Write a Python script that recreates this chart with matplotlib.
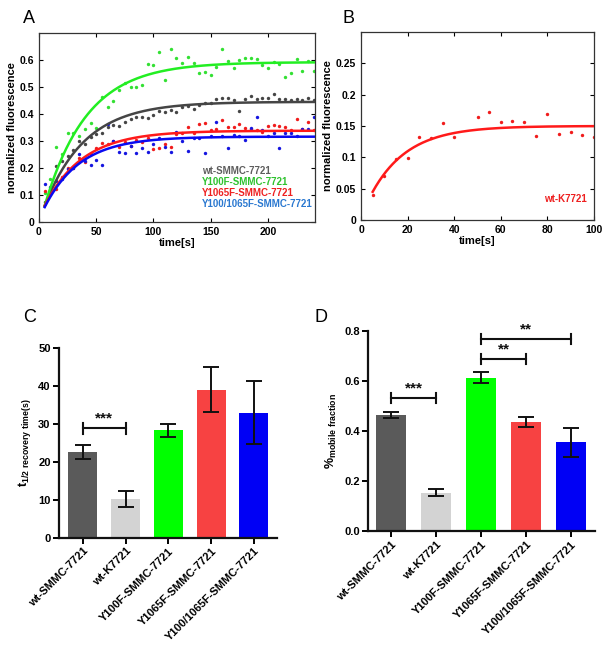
import numpy as np
import matplotlib
matplotlib.use("Agg")
import matplotlib.pyplot as plt

plt.rcParams['font.family'] = ['Liberation Sans', 'DejaVu Sans']
plt.rcParams['mathtext.fontset'] = 'custom'
plt.rcParams['mathtext.rm'] = 'Liberation Sans'
plt.rcParams['mathtext.bf'] = 'Liberation Sans:bold'

# ---------------- Data ----------------
time_a = list(range(5, 245, 5))
wt_smmc = [0.075, 0.12, 0.207, 0.225, 0.245, 0.265, 0.30, 0.29, 0.315, 0.325,
           0.33, 0.35, 0.36, 0.355, 0.37, 0.383, 0.39, 0.39, 0.384, 0.396,
           0.41, 0.407, 0.415, 0.409, 0.425, 0.43, 0.42, 0.435, 0.44, 0.44,
           0.457, 0.458, 0.459, 0.45, 0.412, 0.457, 0.468, 0.455, 0.46, 0.458,
           0.474, 0.455, 0.457, 0.452, 0.455, 0.452, 0.458, 0.45]
y100f = [0.106, 0.159, 0.277, 0.252, 0.33, 0.328, 0.318, 0.345, 0.368, 0.347,
         0.464, 0.427, 0.449, 0.49, 0.516, 0.499, 0.501, 0.506, 0.584, 0.581,
         0.628, 0.526, 0.64, 0.606, 0.59, 0.611, 0.588, 0.551, 0.556, 0.544,
         0.573, 0.64, 0.597, 0.569, 0.6, 0.608, 0.607, 0.605, 0.58, 0.569,
         0.594, 0.586, 0.537, 0.553, 0.602, 0.56, 0.597, 0.56]
y1065f = [0.115, 0.12, 0.123, 0.165, 0.2, 0.2, 0.238, 0.222, 0.25, 0.273,
          0.291, 0.29, 0.30, 0.278, 0.295, 0.281, 0.305, 0.295, 0.31, 0.272,
          0.273, 0.289, 0.279, 0.325, 0.33, 0.35, 0.33, 0.364, 0.368, 0.34,
          0.345, 0.378, 0.353, 0.35, 0.363, 0.349, 0.345, 0.34, 0.335, 0.355,
          0.36, 0.356, 0.35, 0.34, 0.38, 0.345, 0.372, 0.34]
y100_1065f = [0.14, 0.128, 0.15, 0.16, 0.195, 0.2, 0.252, 0.225, 0.211, 0.23,
              0.21, 0.362, 0.30, 0.26, 0.254, 0.28, 0.257, 0.273, 0.26, 0.289,
              0.31, 0.279, 0.26, 0.334, 0.30, 0.263, 0.31, 0.31, 0.257, 0.32,
              0.372, 0.32, 0.275, 0.322, 0.32, 0.304, 0.347, 0.388, 0.341, 0.32,
              0.33, 0.273, 0.331, 0.33, 0.32, 0.344, 0.345, 0.39]
series_a_names = ["wt-SMMC-7721", "Y100F-SMMC-7721", "Y1065F-SMMC-7721", "Y100/1065F-SMMC-7721"]
# exponential recovery fit parameters: start value, plateau, rate
fit_start_a = [0.06, 0.06, 0.06, 0.055]
fit_plateau_a = [0.445, 0.592, 0.338, 0.316]
fit_rate_a = [0.028, 0.027, 0.030, 0.032]

time_b = [5, 10, 15, 20, 25, 30, 35, 40, 50, 55, 60, 65, 70, 75, 80, 85, 90, 95, 100]
wt_k7721 = [0.04, 0.071, 0.098, 0.099, 0.132, 0.131, 0.154, 0.132, 0.165, 0.172,
            0.156, 0.158, 0.157, 0.134, 0.169, 0.137, 0.141, 0.136, 0.133]
fit_start_b = 0.045
fit_plateau_b = 0.15
fit_rate_b = 0.064

bar_labels = ["wt-SMMC-7721", "wt-K7721", "Y100F-SMMC-7721", "Y1065F-SMMC-7721", "Y100/1065F-SMMC-7721"]
t_half = [22.6, 10.1, 28.3, 39.0, 32.9]
t_half_err = [1.8, 2.05, 1.65, 5.9, 8.35]
mobile = [0.463, 0.153, 0.613, 0.436, 0.355]
mobile_err = [0.011, 0.013, 0.023, 0.02, 0.058]

# ---------------- Styles ----------------
line_cols = ['#454545', '#22ee22', '#ff1a1a', '#0a0af0']
dot_cols = ['#454545', '#33e033', '#f01c1c', '#1515e0']
text_cols = ['#5e5e5e', '#2fc22f', '#ee2020', '#2a78d0']
bar_cols = ['#5a5a5a', '#d3d3d3', '#00ff00', '#f74242', '#0000f5']

fig = plt.figure(figsize=(6.08, 6.54), dpi=100)

def matlab_style(ax):
    ax.tick_params(direction='in', top=True, right=True, length=3, width=0.8,
                   labelsize=7.5)
    for lab in ax.get_xticklabels() + ax.get_yticklabels():
        lab.set_fontweight('bold')
    for s in ax.spines.values():
        s.set_linewidth(0.9)
        s.set_color('#333333')

# ---- Panel A ----
axA = fig.add_axes([0.0641, 0.6606, 0.4539, 0.2890])
data_a = [wt_smmc, y100f, y1065f, y100_1065f]
tt = np.linspace(5, 240, 300)
order = [0, 1, 2, 3]
for i in order:
    axA.scatter(time_a, data_a[i], s=6, color=dot_cols[i], zorder=2, linewidths=0)
for i in order:
    curve = fit_plateau_a[i] - (fit_plateau_a[i] - fit_start_a[i]) * np.exp(-fit_rate_a[i] * (tt - 5))
    axA.plot(tt, curve, color=line_cols[i], lw=1.8, zorder=3)
axA.set_xlim(0, 241)
axA.set_ylim(0, 0.7)
axA.set_xticks([0, 50, 100, 150, 200])
axA.set_yticks([0, 0.1, 0.2, 0.3, 0.4, 0.5, 0.6])
axA.set_yticklabels(['0', '0.1', '0.2', '0.3', '0.4', '0.5', '0.6'])
axA.set_xlabel('time[s]', fontsize=8, fontweight='bold', labelpad=1)
axA.set_ylabel('normalized fluorescence', fontsize=8, fontweight='bold', labelpad=2)
matlab_style(axA)
for i, name in enumerate(series_a_names):
    axA.text(142, 0.19 - i * 0.0415, name, color=text_cols[i], fontsize=7,
             fontweight='bold', va='center', ha='left')

# ---- Panel B ----
axB = fig.add_axes([0.5938, 0.6636, 0.3832, 0.2875])
axB.scatter(time_b, wt_k7721, s=6, color='#f01c1c', linewidths=0, zorder=2)
tb = np.linspace(5, 100, 200)
axB.plot(tb, fit_plateau_b - (fit_plateau_b - fit_start_b) * np.exp(-fit_rate_b * (tb - 5)),
         color='#ff1a1a', lw=1.8, zorder=3)
axB.set_xlim(0, 100)
axB.set_ylim(0, 0.3)
axB.set_xticks([0, 20, 40, 60, 80, 100])
axB.set_yticks([0, 0.05, 0.1, 0.15, 0.2, 0.25])
axB.set_yticklabels(['0', '0.05', '0.1', '0.15', '0.2', '0.25'])
axB.set_xlabel('time[s]', fontsize=8, fontweight='bold', labelpad=1)
axB.set_ylabel('normalized fluorescence', fontsize=8, fontweight='bold', labelpad=2)
matlab_style(axB)
axB.text(97, 0.033, 'wt-K7721', color='#ee2020', fontsize=7, fontweight='bold',
         ha='right', va='center')

# ---- Bar panels ----
def prism_style(ax):
    for s in ['top', 'right']:
        ax.spines[s].set_visible(False)
    for s in ['left', 'bottom']:
        ax.spines[s].set_linewidth(1.6)
        ax.spines[s].set_color('#111111')
    ax.tick_params(direction='out', length=4, width=1.4, labelsize=8, pad=2)
    for lab in ax.get_yticklabels():
        lab.set_fontweight('bold')

def bracket(ax, x0, x1, y, h, txt, dy):
    ax.plot([x0, x1], [y, y], color='#111111', lw=1.5, clip_on=False)
    ax.plot([x0, x0], [y - h, y + h], color='#111111', lw=1.5, clip_on=False)
    ax.plot([x1, x1], [y - h, y + h], color='#111111', lw=1.5, clip_on=False)
    ax.text((x0 + x1) / 2, y + dy, txt, ha='center', va='center', fontsize=11,
            fontweight='bold', color='#111111')

xpos = np.arange(len(bar_labels))

axC = fig.add_axes([0.0970, 0.1781, 0.3586, 0.2898])
axC.bar(xpos, t_half, width=0.68, color=bar_cols, edgecolor='none', zorder=1)
axC.errorbar(xpos, t_half, yerr=t_half_err, fmt='none', ecolor='#111111',
             elinewidth=1.4, capsize=5.5, capthick=1.4, zorder=3)
axC.set_xlim(-0.56, 4.54)
axC.set_ylim(0, 50)
axC.set_yticks([0, 10, 20, 30, 40, 50])
axC.set_xticks(xpos)
axC.set_xticklabels(bar_labels, rotation=45, ha='right', rotation_mode='anchor',
                    fontsize=8, fontweight='bold')
prism_style(axC)
axC.set_ylabel(r'$\mathbf{t}_{\mathbf{1/2\ recovery\ time(s)}}$', fontsize=9, labelpad=4)
bracket(axC, 0, 1, 28.8, 1.4, '***', 2.6)

axD = fig.add_axes([0.6053, 0.1881, 0.3734, 0.3058])
axD.bar(xpos, mobile, width=0.67, color=bar_cols, edgecolor='none', zorder=1)
axD.errorbar(xpos, mobile, yerr=mobile_err, fmt='none', ecolor='#111111',
             elinewidth=1.4, capsize=5.5, capthick=1.4, zorder=3)
axD.set_xlim(-0.51, 4.53)
axD.set_ylim(0, 0.8)
axD.set_yticks([0, 0.2, 0.4, 0.6, 0.8])
axD.set_yticklabels(['0.0', '0.2', '0.4', '0.6', '0.8'])
axD.set_xticks(xpos)
axD.set_xticklabels(bar_labels, rotation=45, ha='right', rotation_mode='anchor',
                    fontsize=8, fontweight='bold')
prism_style(axD)
axD.set_ylabel(r'$\mathbf{\%}_{\mathbf{mobile\ fraction}}$', fontsize=9, labelpad=4)
bracket(axD, 0, 1, 0.532, 0.02, '***', 0.038)
bracket(axD, 2, 3, 0.689, 0.02, '**', 0.038)
bracket(axD, 2, 4, 0.767, 0.02, '**', 0.038)

# panel letters
for lbl, x, y in [('A', 0.038, 0.985), ('B', 0.563, 0.985), ('C', 0.038, 0.528), ('D', 0.518, 0.528)]:
    fig.text(x, y, lbl, fontsize=13, ha='left', va='top')

fig.savefig('out.png', dpi=100)
